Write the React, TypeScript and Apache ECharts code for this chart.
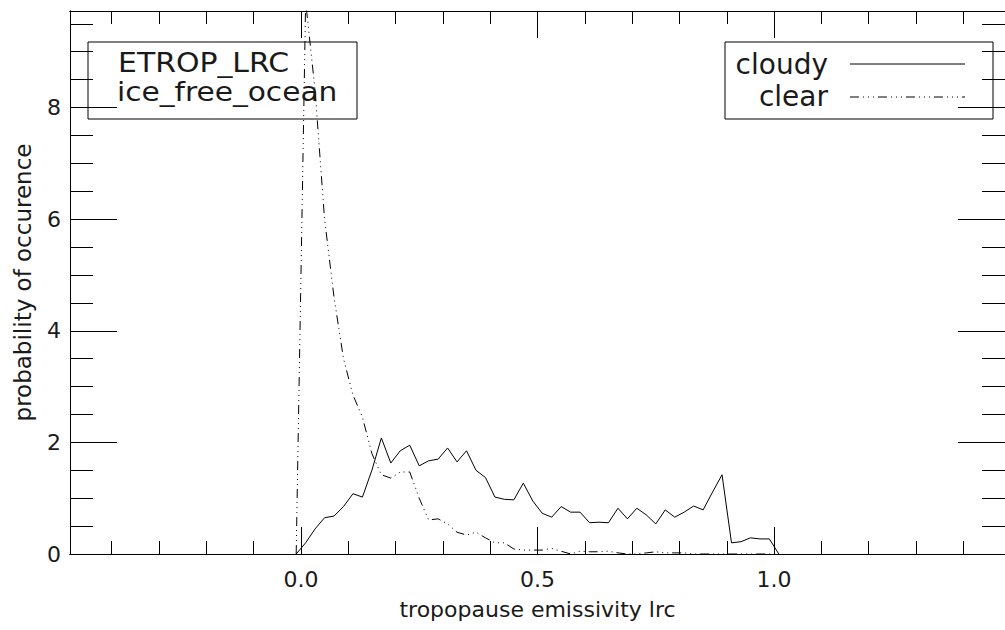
import React, { useEffect, useRef } from "react";
import * as echarts from "echarts";

const xBins = [
  -0.01, 0.01, 0.03, 0.05, 0.07, 0.09, 0.11, 0.13, 0.15, 0.17, 0.19, 0.21, 0.23,
  0.25, 0.27, 0.29, 0.31, 0.33, 0.35, 0.37, 0.39, 0.41, 0.43, 0.45, 0.47, 0.49,
  0.51, 0.53, 0.55, 0.57, 0.59, 0.61, 0.63, 0.65, 0.67, 0.69, 0.71, 0.73, 0.75,
  0.77, 0.79, 0.81, 0.83, 0.85, 0.87, 0.89, 0.91, 0.93, 0.95, 0.97, 0.99, 1.01,
];
const cloudy = [
  0, 0.2, 0.45, 0.65, 0.68, 0.85, 1.08, 1.02, 1.5, 2.08, 1.63, 1.85, 1.95,
  1.58, 1.67, 1.7, 1.9, 1.65, 1.85, 1.5, 1.37, 1.02, 0.98, 0.97, 1.27, 0.95,
  0.73, 0.66, 0.85, 0.75, 0.75, 0.56, 0.57, 0.56, 0.82, 0.63, 0.82, 0.7, 0.54,
  0.79, 0.66, 0.75, 0.86, 0.79, 1.11, 1.42, 0.2, 0.22, 0.29, 0.27, 0.27, 0,
];
const clear = [
  0, 9.9, 8.3, 6.0, 4.6, 3.5, 2.85, 2.45, 1.8, 1.42, 1.36, 1.47, 1.47,
  1.0, 0.61, 0.63, 0.54, 0.39, 0.34, 0.39, 0.29, 0.2, 0.2, 0.09, 0.07, 0.07,
  0.07, 0.1, 0.05, 0, 0.05, 0.04, 0.04, 0.05, 0.02, 0, 0, 0.02, 0.04,
  0.02, 0.02, 0.02, 0, 0, 0, 0, 0, 0, 0, 0, 0, 0,
];
const xMajorTicks = [0, 0.5, 1.0];
const xMinorTicks = [-0.4, -0.3, -0.2, -0.1, 0.1, 0.2, 0.3, 0.4, 0.6, 0.7, 0.8, 0.9, 1.1, 1.2, 1.3, 1.4];
const yLabels = [0, 2, 4, 6, 8];
const yMajorTicks = [2, 4, 6, 8];
const yMinorTicks = [0.5, 1, 1.5, 2.5, 3, 3.5, 4.5, 5, 5.5, 6.5, 7, 7.5, 8.5, 9, 9.5];
const seriesNames = ["cloudy", "clear"];
const annotation = ["ETROP_LRC", "ice_free_ocean"];
const xTitle = "tropopause emissivity lrc";
const yTitle = "probability of occurence";

const X_MIN = -0.488;
const X_MAX = 1.488;
const Y_MIN = 0;
const Y_MAX = 9.73;
const FONT = "DejaVu Sans";
const INK = "#1a1a1a";
const clearDash = [9, 4, 1, 4, 1, 4, 1, 4];

export default function App() {
  const ref = useRef<HTMLDivElement>(null);
  useEffect(() => {
    if (!ref.current) return;
    const chart = echarts.init(ref.current, undefined, { renderer: "svg" });
    const line = { color: "#000", width: 1 };
    const gridRect = { left: 70, top: 11, width: 940, height: 543 };
    const noLabel = { show: false };
    const xBase = (gridIndex: number, position: string, ticks: number[], len: number, extra: any = {}) => ({
      type: "value",
      gridIndex,
      position,
      min: X_MIN,
      max: X_MAX,
      axisLine: { show: true, onZero: false, lineStyle: line },
      axisTick: { show: true, inside: true, length: len, customValues: ticks, lineStyle: line },
      axisLabel: noLabel,
      splitLine: { show: false },
      ...extra,
    });
    const yBase = (gridIndex: number, position: string, ticks: number[], len: number, extra: any = {}) => ({
      type: "value",
      gridIndex,
      position,
      min: Y_MIN,
      max: Y_MAX,
      axisLine: { show: true, onZero: false, lineStyle: line },
      axisTick: { show: true, inside: true, length: len, customValues: ticks, lineStyle: line },
      axisLabel: noLabel,
      splitLine: { show: false },
      ...extra,
    });
    const labelStyle = { fontFamily: FONT, fontSize: 22, color: INK };
    const boxFont = `26px "${FONT}"`;
    chart.setOption({
      animation: false,
      backgroundColor: "#fff",
      textStyle: { fontFamily: FONT },
      grid: [
        { ...gridRect, containLabel: false },
        { ...gridRect, containLabel: false },
      ],
      xAxis: [
        xBase(0, "bottom", xMajorTicks, 27, {
          axisLabel: {
            show: true,
            customValues: xMajorTicks,
            formatter: (v: number) => v.toFixed(1),
            margin: 14,
            ...labelStyle,
          },
          name: xTitle,
          nameLocation: "middle",
          nameGap: 44,
          nameTextStyle: labelStyle,
        }),
        xBase(0, "top", xMajorTicks, 27),
        xBase(1, "bottom", xMinorTicks, 13),
        xBase(1, "top", xMinorTicks, 13),
      ],
      yAxis: [
        yBase(0, "left", yMajorTicks, 47, {
          axisLabel: {
            show: true,
            customValues: yLabels,
            formatter: (v: number) => String(v),
            margin: 9,
            ...labelStyle,
          },
          name: yTitle,
          nameLocation: "middle",
          nameRotate: 90,
          nameGap: 36,
          nameTextStyle: { ...labelStyle, fontSize: 23 },
        }),
        yBase(0, "right", yMajorTicks, 47),
        yBase(1, "left", yMinorTicks, 23),
        yBase(1, "right", yMinorTicks, 23),
      ],
      series: [
        {
          name: seriesNames[0],
          type: "line",
          xAxisIndex: 0,
          yAxisIndex: 0,
          data: xBins.map((x, i) => [x, cloudy[i]]),
          symbol: "none",
          lineStyle: { color: "#000", width: 1, type: "solid" },
          clip: true,
        },
        {
          name: seriesNames[1],
          type: "line",
          xAxisIndex: 0,
          yAxisIndex: 0,
          data: xBins.map((x, i) => [x, clear[i]]),
          symbol: "none",
          lineStyle: { color: "#000", width: 1, type: clearDash },
          clip: true,
        },
      ],
      graphic: [
        {
          type: "rect",
          shape: { x: 88, y: 42, width: 269, height: 77 },
          style: { fill: "none", stroke: "#000", lineWidth: 1 },
          z: 10,
        },
        {
          type: "text",
          x: 118,
          y: 63,
          scaleX: 1.15,
          style: { text: annotation[0], font: boxFont, fill: INK, verticalAlign: "middle" },
          z: 10,
        },
        {
          type: "text",
          x: 117,
          y: 92,
          scaleX: 1.14,
          style: { text: annotation[1], font: boxFont, fill: INK, verticalAlign: "middle" },
          z: 10,
        },
        {
          type: "rect",
          shape: { x: 725, y: 42, width: 268, height: 77 },
          style: { fill: "none", stroke: "#000", lineWidth: 1 },
          z: 10,
        },
        {
          type: "text",
          x: 828,
          y: 64,
          style: { text: seriesNames[0], font: `28px "${FONT}"`, fill: INK, align: "right", verticalAlign: "middle" },
          z: 10,
        },
        {
          type: "text",
          x: 828,
          y: 96,
          style: { text: seriesNames[1], font: `28px "${FONT}"`, fill: INK, align: "right", verticalAlign: "middle" },
          z: 10,
        },
        {
          type: "line",
          shape: { x1: 850, y1: 64, x2: 965, y2: 64 },
          style: { stroke: "#000", lineWidth: 1 },
          z: 10,
        },
        {
          type: "line",
          shape: { x1: 850, y1: 97, x2: 965, y2: 97 },
          style: { stroke: "#000", lineWidth: 1, lineDash: clearDash },
          z: 10,
        },
      ],
    });
    return () => chart.dispose();
  }, []);
  return (
    <div
      ref={ref}
      style={{ position: "absolute", left: 0, top: 0, width: 1005, height: 630, background: "#fff" }}
    />
  );
}
